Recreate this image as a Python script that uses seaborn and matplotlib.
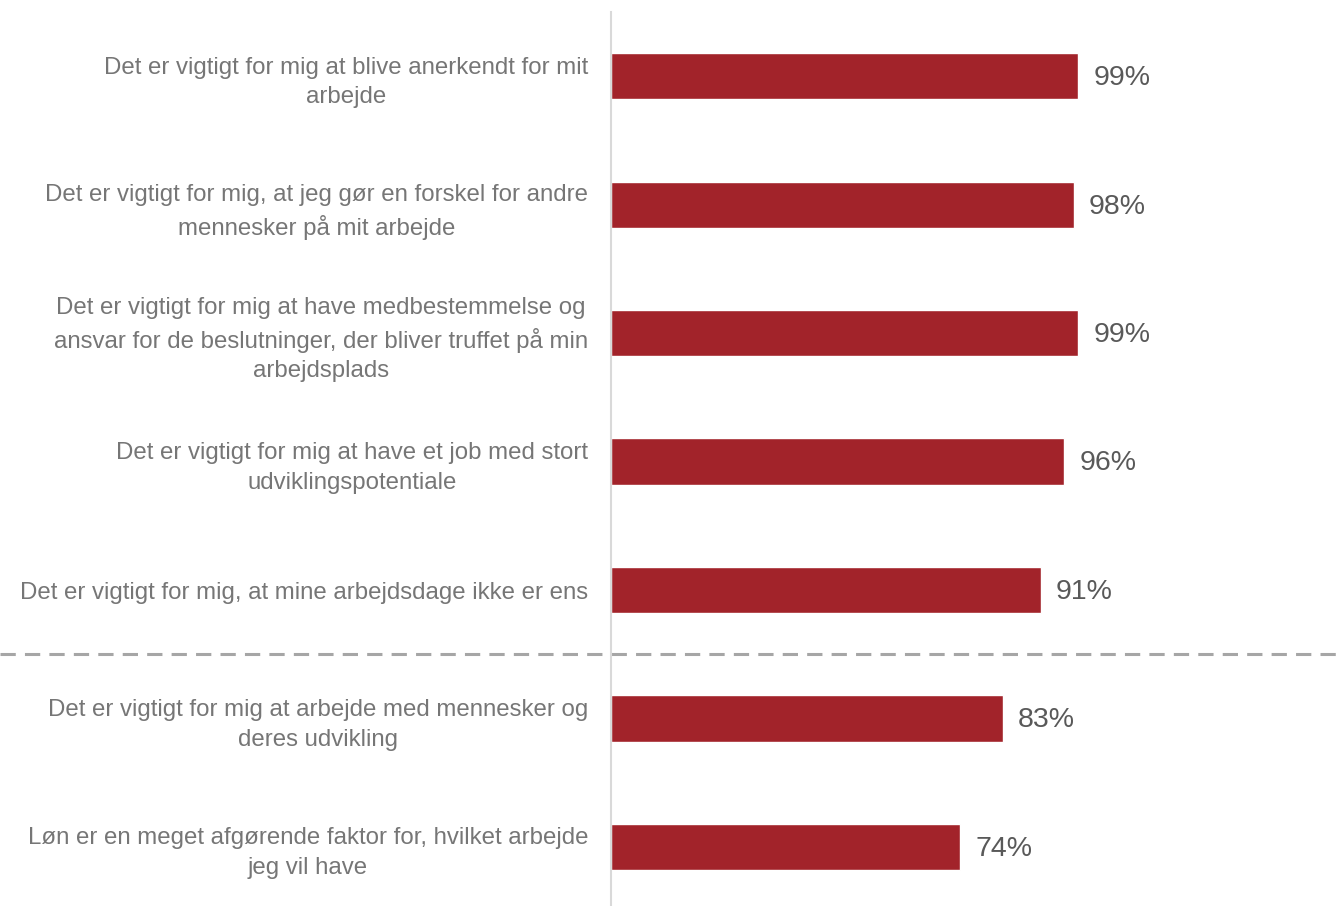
import numpy as np
import pandas as pd
import matplotlib
matplotlib.use('Agg')
import matplotlib.pyplot as plt
import seaborn as sns

# Data
statements = [
    'Det er vigtigt for mig at blive anerkendt for mit\narbejde',
    'Det er vigtigt for mig, at jeg gør en forskel for andre\nmennesker på mit arbejde',
    'Det er vigtigt for mig at have medbestemmelse og\nansvar for de beslutninger, der bliver truffet på min\narbejdsplads',
    'Det er vigtigt for mig at have et job med stort\nudviklingspotentiale',
    'Det er vigtigt for mig, at mine arbejdsdage ikke er ens',
    'Det er vigtigt for mig at arbejde med mennesker og\nderes udvikling',
    'Løn er en meget afgørende faktor for, hvilket arbejde\njeg vil have',
]
shares = [99, 98, 99, 96, 91, 83, 74]
value_labels = ['99%', '98%', '99%', '96%', '91%', '83%', '74%']

df = pd.DataFrame({'statement': statements, 'share': shares})

sns.set_theme(style='white')
plt.rcParams['font.family'] = ['Liberation Sans', 'DejaVu Sans']

fig = plt.figure(figsize=(13.4, 9.06), dpi=100)
ax = fig.add_axes([611 / 1340, 0, 1 - 611 / 1340, 1 - 12 / 906])

sns.barplot(data=df, y='statement', x='share', orient='h', color='#A2232A',
            saturation=1, width=0.36, ax=ax)

ax.set_xlim(0, 154.4)
ax.set_ylim(6.46, -0.5)
ax.set_xlabel('')
ax.set_ylabel('')
ax.set_xticks([])

for spine in ['top', 'right', 'bottom']:
    ax.spines[spine].set_visible(False)
ax.spines['left'].set_color('#D9D9D9')
ax.spines['left'].set_linewidth(1.5)

ax.tick_params(axis='y', length=0, pad=16.5, labelsize=17.3, labelcolor='#767676')
for lbl in ax.get_yticklabels():
    lbl.set_multialignment('center')
    lbl.set_linespacing(1.45)

for i, (v, txt) in enumerate(zip(shares, value_labels)):
    ax.text(v + 3.2, i + 0.015, txt, va='center', ha='left', fontsize=20.5, color='#595959')

# dashed separator between top five and the rest
ax.axhline(4.5, xmin=-611 / 729, xmax=1, color='#A6A6A6', lw=2.2,
           ls=(0, (5, 3)), clip_on=False)

fig.savefig('out.png', dpi=100)
